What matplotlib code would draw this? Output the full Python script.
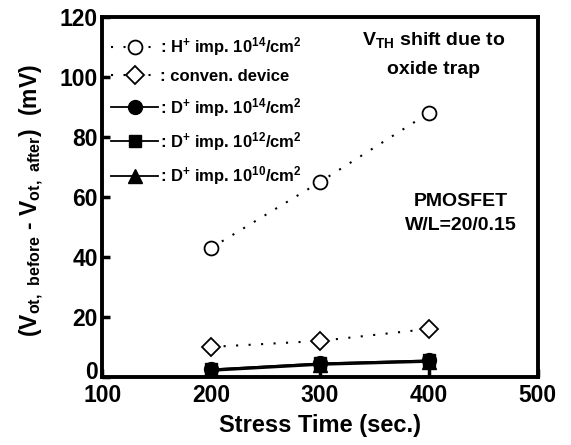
import matplotlib
matplotlib.use("Agg")
import matplotlib.pyplot as plt
from matplotlib.transforms import ScaledTranslation

plt.rcParams['font.family'] = ['Liberation Sans', 'DejaVu Sans']
plt.rcParams['font.weight'] = 'bold'
plt.rcParams['mathtext.default'] = 'regular'

stress_time = [200, 300, 400]
h_imp_1e14 = [43, 65, 88]
conven_device = [10, 12, 16]
d_imp_1e14 = [2.5, 4.5, 5.5]
d_imp_1e12 = [2.5, 4.5, 5.5]
d_imp_1e10 = [2.0, 4.0, 5.0]

labels = [r': H$^{+}$ imp. 10$^{14}$/cm$^{2}$',
          ': conven. device',
          r': D$^{+}$ imp. 10$^{14}$/cm$^{2}$',
          r': D$^{+}$ imp. 10$^{12}$/cm$^{2}$',
          r': D$^{+}$ imp. 10$^{10}$/cm$^{2}$']

xticks = [100, 200, 300, 400, 500]
yticks = [0, 20, 40, 60, 80, 100, 120]

fig = plt.figure(figsize=(5.71, 4.45), dpi=100)
ax = fig.add_axes([0.179, 0.153, 0.763, 0.809])

ms = 10
dot = (0, (1, 5))
ax.plot(stress_time, h_imp_1e14, linestyle=dot, color='black', lw=1.5,
        marker='o', mfc='white', mec='black', ms=ms, mew=1.3, label=labels[0])
ax.plot(stress_time, conven_device, linestyle=dot, color='black', lw=1.5,
        marker='D', mfc='white', mec='black', ms=ms - 1, mew=1.3, label=labels[1])
ax.plot(stress_time, d_imp_1e14, linestyle='-', color='black', lw=1.3,
        marker='o', mfc='black', mec='black', ms=ms, label=labels[2])
ax.plot(stress_time, d_imp_1e12, linestyle='-', color='black', lw=1.3,
        marker='s', mfc='black', mec='black', ms=ms - 1, label=labels[3])
ax.plot(stress_time, d_imp_1e10, linestyle='-', color='black', lw=1.3,
        marker='^', mfc='black', mec='black', ms=ms, label=labels[4])

ax.set_xlim(100, 500)
ax.set_ylim(0, 120)
ax.set_xticks(xticks)
ax.set_yticks(yticks)
ax.tick_params(direction='in', length=6, width=2.5, labelsize=16.5)
ax.tick_params(axis='x', pad=5)
ax.tick_params(axis='y', pad=3)
for lab in ax.get_xticklabels() + ax.get_yticklabels():
    lab.set_fontweight('bold')
for sp in ax.spines.values():
    sp.set_linewidth(2.8)

# raise the "0" label slightly above the axis corner, as in the reference
ylabs = ax.get_yticklabels()
ylabs[0].set_transform(ylabs[0].get_transform() +
                       ScaledTranslation(0, 5 / 72, fig.dpi_scale_trans))

ax.set_xlabel('Stress Time (sec.)', fontsize=17, fontweight='bold', labelpad=5)
ax.set_ylabel(r'(V$_{ot,\ before}$ - V$_{ot,\ after}$)  (mV)', fontsize=16.5,
              fontweight='bold')
ax.yaxis.set_label_coords(-0.128, 0.49)

leg = ax.legend(loc='upper left', frameon=False, handlelength=2.8,
                handletextpad=0.1, labelspacing=0.68, borderaxespad=0.15,
                bbox_to_anchor=(0.0, 0.975),
                prop={'weight': 'bold', 'size': 12})

ax.text(0.76, 0.965, 'V$_{TH}$ shift due to\noxide trap', transform=ax.transAxes,
        ha='center', va='top', fontsize=14, fontweight='bold', linespacing=1.9)
ax.text(0.823, 0.51, 'PMOSFET\nW/L=20/0.15', transform=ax.transAxes,
        ha='center', va='top', fontsize=14, fontweight='bold', linespacing=1.5)

fig.savefig('out.png', dpi=100)
